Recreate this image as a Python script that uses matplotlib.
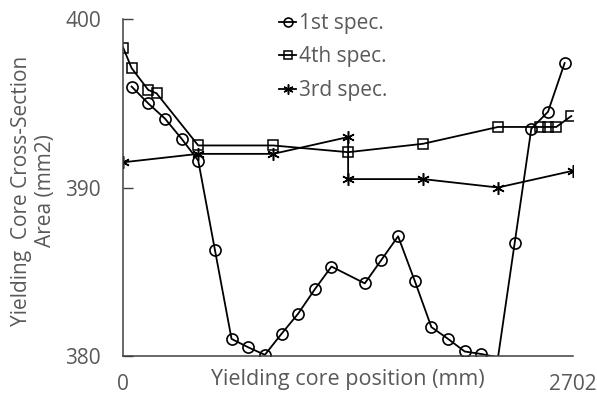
import numpy as np
from matplotlib import pyplot as plt

plt.rcParams['font.family'] = ['Open Sans', 'DejaVu Sans']

# 1st specimen (one reading below 380 is cut off by the axis)
x_1st = [50, 150, 250, 350, 450, 550, 650, 750, 850, 950, 1050, 1150, 1250,
         1450, 1550, 1650, 1750, 1850, 1950, 2050, 2150, 2250, 2350, 2450, 2550, 2650]
y_1st = [396.0, 395.0, 394.1, 392.9, 391.6, 386.3, 381.0, 380.5, 380.05, 381.3, 382.5, 383.95, 385.3,
         384.3, 385.7, 387.1, 384.45, 381.7, 381.0, 380.25, 380.1, 379.9, 386.7, 393.5, 394.5, 397.4]

# 4th specimen
x_4th = [0, 50, 150, 200, 450, 900, 1350, 1800, 2250, 2500, 2550, 2600, 2690]
y_4th = [398.3, 397.1, 395.8, 395.6, 392.5, 392.5, 392.1, 392.6, 393.6, 393.6, 393.6, 393.6, 394.25]

# 3rd specimen
x_3rd = [0, 450, 900, 1350, 1350, 1800, 2250, 2702]
y_3rd = [391.5, 392.0, 392.0, 393.0, 390.5, 390.5, 390.0, 391.0]

yticks = [380, 390, 400]
xticks = [0, 2702]

grey = '#595959'

fig = plt.figure(figsize=(5.97, 3.95), dpi=100)
ax = fig.add_axes([0.2065, 0.0995, 0.7538, 0.8516])

# hide markers for points outside the y range (like the spreadsheet does)
vis = [i for i, v in enumerate(y_1st) if v >= 380]
ax.plot(x_1st, y_1st, '-', color='black', lw=1.3, marker='o', ms=8, mfc='none',
        mec='black', mew=1.2, markevery=vis, label='1st spec.')
ax.plot(x_4th, y_4th, '-', color='black', lw=1.3, marker='s', ms=7.5, mfc='none',
        mec='black', mew=1.1, label='4th spec.')
ax.plot(x_3rd, y_3rd, '-', color='black', lw=1.3, marker=(6, 2, 0), ms=9,
        mec='black', mew=1.1, label='3rd spec.')

ax.set_xlim(0, 2702)
ax.set_ylim(380, 400)
ax.set_yticks(yticks)
ax.set_xticks(xticks)
ax.tick_params(axis='y', direction='in', length=7, width=1, color='#404040',
               labelsize=15, labelcolor=grey, pad=16)
ax.tick_params(axis='x', length=0, labelsize=15, labelcolor=grey, pad=13)

for s in ['top', 'right']:
    ax.spines[s].set_visible(False)
for s in ['left', 'bottom']:
    ax.spines[s].set_color('#404040')
    ax.spines[s].set_linewidth(1.1)

ax.set_xlabel('Yielding core position (mm)', fontsize=15.5, color=grey)
ax.xaxis.set_label_coords(0.5, -0.04)
ax.set_ylabel('Yielding  Core Cross-Section\nArea (mm2)', fontsize=15, color=grey,
              linespacing=1.15)
ax.yaxis.set_label_coords(-0.15, 0.49)

leg = ax.legend(loc='upper left', bbox_to_anchor=(0.305, 1.075), frameon=False,
                fontsize=15, handlelength=0.8, handletextpad=0.15, labelspacing=0.6,
                markerscale=0.8, labelcolor=grey)

fig.savefig('out.png', dpi=100)
